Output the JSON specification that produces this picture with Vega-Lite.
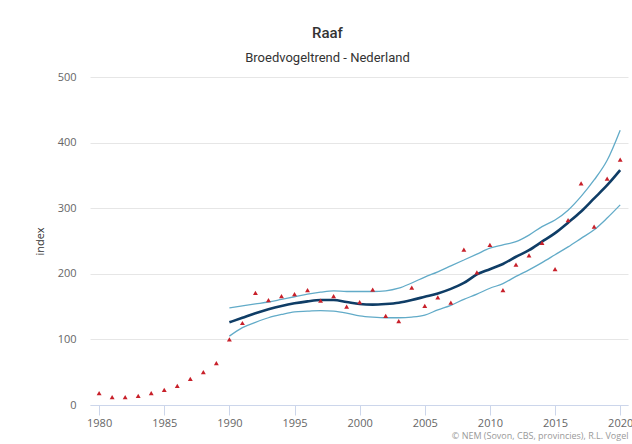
{
  "$schema": "https://vega.github.io/schema/vega-lite/v6.json",
  "width": 538,
  "height": 328,
  "autosize": "none",
  "padding": {"left": 90, "top": 77, "right": 4, "bottom": 39},
  "background": "white",
  "title": {
    "text": "Raaf",
    "subtitle": "Broedvogeltrend - Nederland",
    "frame": "bounds",
    "anchor": "middle",
    "dx": -6,
    "font": "Roboto",
    "fontSize": 15,
    "fontWeight": 500,
    "color": "#333333",
    "subtitleFont": "Roboto",
    "subtitleFontSize": 13,
    "subtitleFontWeight": "normal",
    "subtitleColor": "#333333",
    "subtitlePadding": 11,
    "offset": 6
  },
  "config": {
    "view": {"stroke": null},
    "axis": {"labelFont": "Open Sans", "titleFont": "Open Sans"}
  },
  "data": {
    "values": [
      {"year": 1980, "index": 18, "trend": null, "lower": null, "upper": null},
      {"year": 1981, "index": 12, "trend": null, "lower": null, "upper": null},
      {"year": 1982, "index": 12, "trend": null, "lower": null, "upper": null},
      {"year": 1983, "index": 14, "trend": null, "lower": null, "upper": null},
      {"year": 1984, "index": 18, "trend": null, "lower": null, "upper": null},
      {"year": 1985, "index": 23, "trend": null, "lower": null, "upper": null},
      {"year": 1986, "index": 29, "trend": null, "lower": null, "upper": null},
      {"year": 1987, "index": 40, "trend": null, "lower": null, "upper": null},
      {"year": 1988, "index": 50, "trend": null, "lower": null, "upper": null},
      {"year": 1989, "index": 64, "trend": null, "lower": null, "upper": null},
      {"year": 1990, "index": 100, "trend": 126, "lower": 105, "upper": 148},
      {"year": 1991, "index": 125, "trend": 133, "lower": 118, "upper": 151},
      {"year": 1992, "index": 171, "trend": 140, "lower": 126, "upper": 154},
      {"year": 1993, "index": 160, "trend": 146, "lower": 133, "upper": 157},
      {"year": 1994, "index": 166, "trend": 151, "lower": 138, "upper": 161},
      {"year": 1995, "index": 169, "trend": 155, "lower": 142, "upper": 165},
      {"year": 1996, "index": 175, "trend": 158, "lower": 143, "upper": 169},
      {"year": 1997, "index": 159, "trend": 160, "lower": 144, "upper": 172},
      {"year": 1998, "index": 166, "trend": 160, "lower": 143, "upper": 174},
      {"year": 1999, "index": 150, "trend": 157, "lower": 140, "upper": 173},
      {"year": 2000, "index": 157, "trend": 154, "lower": 136, "upper": 173},
      {"year": 2001, "index": 176, "trend": 153, "lower": 134, "upper": 173},
      {"year": 2002, "index": 136, "trend": 154, "lower": 133, "upper": 174},
      {"year": 2003, "index": 128, "trend": 156, "lower": 133, "upper": 178},
      {"year": 2004, "index": 179, "trend": 160, "lower": 134, "upper": 186},
      {"year": 2005, "index": 151, "trend": 165, "lower": 137, "upper": 195},
      {"year": 2006, "index": 164, "trend": 170, "lower": 145, "upper": 203},
      {"year": 2007, "index": 156, "trend": 177, "lower": 152, "upper": 212},
      {"year": 2008, "index": 237, "trend": 186, "lower": 161, "upper": 221},
      {"year": 2009, "index": 202, "trend": 199, "lower": 169, "upper": 230},
      {"year": 2010, "index": 244, "trend": 207, "lower": 178, "upper": 239},
      {"year": 2011, "index": 175, "trend": 215, "lower": 185, "upper": 244},
      {"year": 2012, "index": 214, "trend": 226, "lower": 196, "upper": 249},
      {"year": 2013, "index": 228, "trend": 236, "lower": 206, "upper": 259},
      {"year": 2014, "index": 247, "trend": 249, "lower": 217, "upper": 272},
      {"year": 2015, "index": 207, "trend": 262, "lower": 229, "upper": 282},
      {"year": 2016, "index": 282, "trend": 278, "lower": 241, "upper": 297},
      {"year": 2017, "index": 338, "trend": 295, "lower": 254, "upper": 318},
      {"year": 2018, "index": 272, "trend": 315, "lower": 267, "upper": 343},
      {"year": 2019, "index": 345, "trend": 335, "lower": 285, "upper": 373},
      {"year": 2020, "index": 374, "trend": 358, "lower": 305, "upper": 419}
    ]
  },
  "encoding": {
    "x": {
      "field": "year",
      "type": "quantitative",
      "scale": {"domain": [1979.3, 2020.6], "nice": false, "zero": false},
      "axis": {
        "values": [1980, 1985, 1990, 1995, 2000, 2005, 2010, 2015, 2020],
        "format": "d",
        "grid": false,
        "domainColor": "#ccd6eb",
        "tickColor": "#ccd6eb",
        "tickSize": 10,
        "labelColor": "#666666",
        "labelFontSize": 11,
        "labelPadding": 2,
        "title": "© NEM (Sovon, CBS, provincies), R.L. Vogel",
        "titleAnchor": "end",
        "titleAlign": "right",
        "titleFontSize": 9,
        "titleFontWeight": "normal",
        "titleColor": "#999999",
        "titlePadding": 3
      }
    }
  },
  "layer": [
    {
      "mark": {"type": "line", "color": "#62abc8", "strokeWidth": 1.3, "interpolate": "monotone"},
      "encoding": {
        "y": {
          "field": "upper",
          "type": "quantitative",
          "scale": {"domain": [0, 500], "nice": false},
          "axis": {
            "values": [0, 100, 200, 300, 400, 500],
            "domain": false,
            "ticks": false,
            "gridColor": "#e6e6e6",
            "labelColor": "#666666",
            "labelFontSize": 11,
            "labelPadding": 14,
            "title": "index",
            "titleColor": "#333333",
            "titleFontSize": 11,
            "titleFontWeight": "normal",
            "titlePadding": 12
          }
        }
      }
    },
    {
      "mark": {"type": "line", "color": "#62abc8", "strokeWidth": 1.3, "interpolate": "monotone"},
      "encoding": {"y": {"field": "lower", "type": "quantitative"}}
    },
    {
      "mark": {"type": "line", "color": "#0f3d66", "strokeWidth": 2.6, "interpolate": "monotone"},
      "encoding": {"y": {"field": "trend", "type": "quantitative"}}
    },
    {
      "mark": {"type": "point", "shape": "triangle-up", "filled": true, "color": "#c8202a", "size": 24, "opacity": 1},
      "encoding": {"y": {"field": "index", "type": "quantitative"}}
    }
  ]
}
